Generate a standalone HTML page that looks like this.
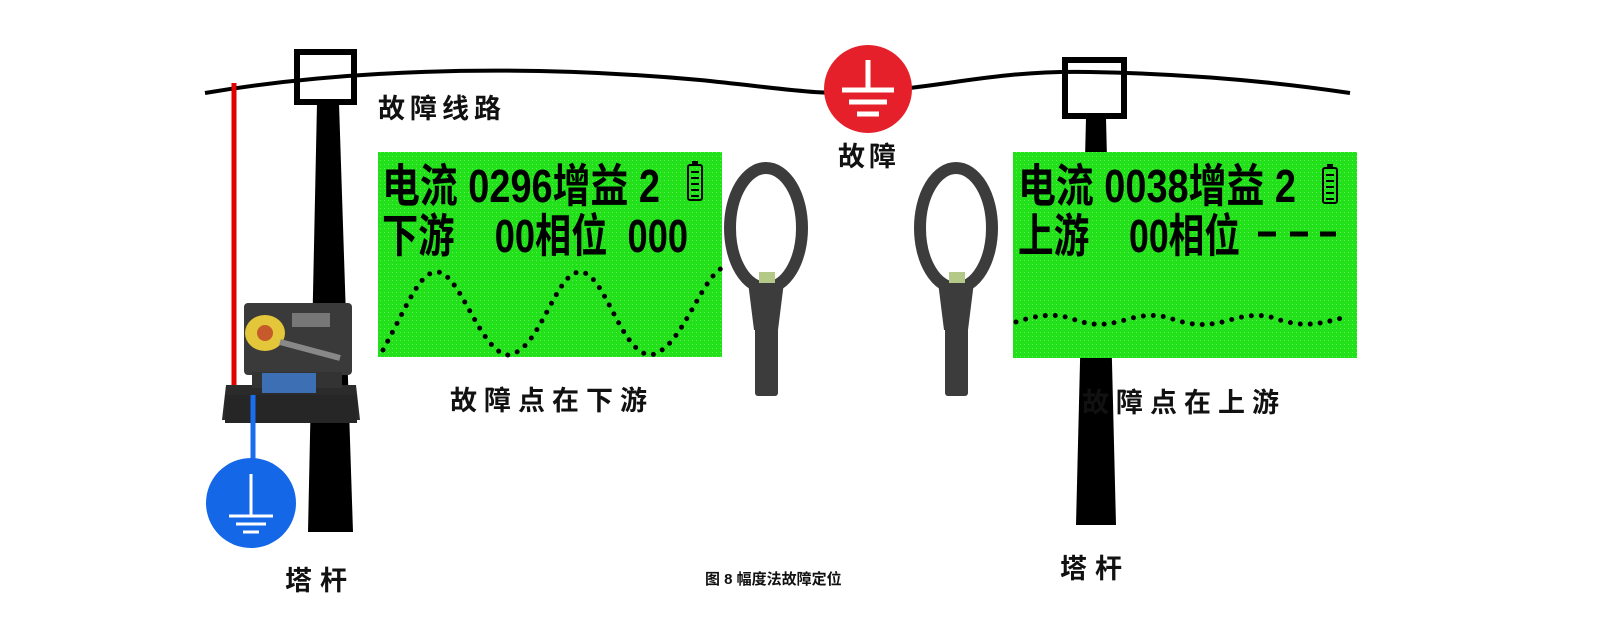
<!DOCTYPE html>
<html><head><meta charset="utf-8"><style>
html,body{margin:0;padding:0;background:#fff;}
svg{display:block}
text{font-family:"Liberation Sans","Noto Sans CJK SC",sans-serif;}
</style></head><body>
<svg width="1600" height="630" viewBox="0 0 1600 630" xmlns="http://www.w3.org/2000/svg">
<defs>
<pattern id="dots" width="4" height="4" patternUnits="userSpaceOnUse">
<rect width="4" height="4" fill="#22e01a"/><rect width="1" height="1" fill="#5cf050"/>
</pattern>
</defs>
<path d="M205,93 C330,72 500,62 700,80 C780,88 820,96 870,92 C950,86 1000,70 1090,72 C1200,74 1290,84 1350,93" fill="none" stroke="#000" stroke-width="4"/>
<polygon points="317,103 339,103 353,532 308,532" fill="#000"/>
<rect x="297" y="52" width="57" height="50" fill="none" stroke="#000" stroke-width="6"/>
<polygon points="1086,118 1106,118 1116,525 1076,525" fill="#000"/>
<rect x="1065" y="60" width="59" height="56" fill="none" stroke="#000" stroke-width="6"/>
<line x1="234" y1="83" x2="234" y2="398" stroke="#e10000" stroke-width="5"/>
<rect x="244" y="303" width="108" height="72" rx="4" fill="#3a3a3a"/>
<ellipse cx="265" cy="333" rx="20" ry="18" fill="#e3c63a"/>
<circle cx="265" cy="333" r="8" fill="#c75a2a"/>
<line x1="280" y1="342" x2="340" y2="358" stroke="#888" stroke-width="6"/>
<rect x="292" y="313" width="38" height="14" fill="#777"/>
<polygon points="226,385 356,385 360,420 222,420" fill="#2b2b2b"/>
<rect x="252" y="372" width="90" height="16" fill="#333"/>
<rect x="262" y="373" width="54" height="20" fill="#3d6fb5"/>
<rect x="225" y="395" width="132" height="28" fill="#262626"/>
<line x1="253" y1="395" x2="253" y2="462" stroke="#1a6cf0" stroke-width="5"/>
<circle cx="251" cy="503" r="45" fill="#1468e8"/>
<line x1="251" y1="474" x2="251" y2="516" stroke="#fff" stroke-width="3"/>
<line x1="229" y1="516" x2="273" y2="516" stroke="#fff" stroke-width="3"/>
<line x1="236" y1="524" x2="266" y2="524" stroke="#fff" stroke-width="3"/>
<line x1="243" y1="532" x2="259" y2="532" stroke="#fff" stroke-width="3"/>
<circle cx="868" cy="89" r="44" fill="#e6202a"/>
<line x1="868" y1="60" x2="868" y2="90" stroke="#fff" stroke-width="5"/>
<line x1="842" y1="90" x2="894" y2="90" stroke="#fff" stroke-width="5"/>
<line x1="849" y1="102" x2="887" y2="102" stroke="#fff" stroke-width="5"/>
<line x1="857" y1="114" x2="879" y2="114" stroke="#fff" stroke-width="5"/>
<rect x="378" y="152" width="344" height="205" fill="url(#dots)"/>
<rect x="1013" y="152" width="344" height="206" fill="url(#dots)"/>
<g font-weight="bold" fill="#000">
<text x="382" y="202" font-size="46" textLength="278" lengthAdjust="spacingAndGlyphs">电流 0296增益 2</text>
<text x="382" y="252" font-size="46" textLength="306" lengthAdjust="spacingAndGlyphs" xml:space="preserve">下游    00相位  000</text>
<text x="1018" y="202" font-size="46" textLength="278" lengthAdjust="spacingAndGlyphs">电流 0038增益 2</text>
<text x="1018" y="252" font-size="46" textLength="222" lengthAdjust="spacingAndGlyphs" xml:space="preserve">上游    00相位</text>
</g>
<rect x="688" y="165" width="14" height="35" rx="2" fill="none" stroke="#000" stroke-width="2"/>
<rect x="692" y="161" width="6" height="4" fill="#000"/>
<g stroke="#000" stroke-width="2"><line x1="691" y1="172" x2="699" y2="172"/><line x1="691" y1="178" x2="699" y2="178"/><line x1="691" y1="184" x2="699" y2="184"/><line x1="691" y1="190" x2="699" y2="190"/><line x1="691" y1="196" x2="699" y2="196"/></g>
<path d="M383,350 C410,300 420,272 437,272 C460,272 480,352 508,355 C540,352 555,272 580,272 C605,272 620,352 650,355 C680,352 700,280 722,268" fill="none" stroke="#000" stroke-width="5" stroke-linecap="round" stroke-dasharray="0 10"/>
<g stroke="#000" stroke-width="5"><line x1="1258" y1="234" x2="1276" y2="234"/><line x1="1290" y1="234" x2="1308" y2="234"/><line x1="1320" y1="234" x2="1336" y2="234"/></g>
<rect x="1323" y="168" width="14" height="35" rx="2" fill="none" stroke="#000" stroke-width="2"/>
<rect x="1327" y="164" width="6" height="4" fill="#000"/>
<g stroke="#000" stroke-width="2"><line x1="1326" y1="175" x2="1334" y2="175"/><line x1="1326" y1="181" x2="1334" y2="181"/><line x1="1326" y1="187" x2="1334" y2="187"/><line x1="1326" y1="193" x2="1334" y2="193"/><line x1="1326" y1="199" x2="1334" y2="199"/></g>
<path d="M1016,322 C1040,314 1055,314 1070,318 C1090,326 1105,326 1125,320 C1145,314 1160,314 1175,320 C1195,326 1210,326 1230,320 C1250,314 1265,314 1280,320 C1300,326 1315,326 1345,317" fill="none" stroke="#000" stroke-width="5" stroke-linecap="round" stroke-dasharray="0 10"/>
<g>
<ellipse cx="766" cy="228" rx="36" ry="60" fill="none" stroke="#3c3c3c" stroke-width="12"/>
<path d="M748,282 L784,282 L778,330 L754,330 Z" fill="#3c3c3c"/>
<rect x="755" y="300" width="23" height="96" rx="3" fill="#3c3c3c"/>
<rect x="759" y="272" width="16" height="11" fill="#b4c888"/>
</g>
<g>
<ellipse cx="956" cy="228" rx="36" ry="60" fill="none" stroke="#3c3c3c" stroke-width="12"/>
<path d="M938,282 L974,282 L968,330 L944,330 Z" fill="#3c3c3c"/>
<rect x="945" y="300" width="23" height="96" rx="3" fill="#3c3c3c"/>
<rect x="949" y="272" width="16" height="11" fill="#b4c888"/>
</g>
<g font-weight="bold" fill="#111">
<text x="378" y="118" font-size="27" letter-spacing="5">故障线路</text>
<text x="838" y="166" font-size="27" letter-spacing="4">故障</text>
<text x="450" y="410" font-size="27" letter-spacing="7">故障点在下游</text>
<text x="1082" y="412" font-size="27" letter-spacing="7">故障点在上游</text>
<text x="285" y="590" font-size="27" letter-spacing="8">塔杆</text>
<text x="1060" y="578" font-size="27" letter-spacing="8">塔杆</text>
<text x="705" y="584" font-size="15">图 8  幅度法故障定位</text>
</g>
</svg>
</body></html>
